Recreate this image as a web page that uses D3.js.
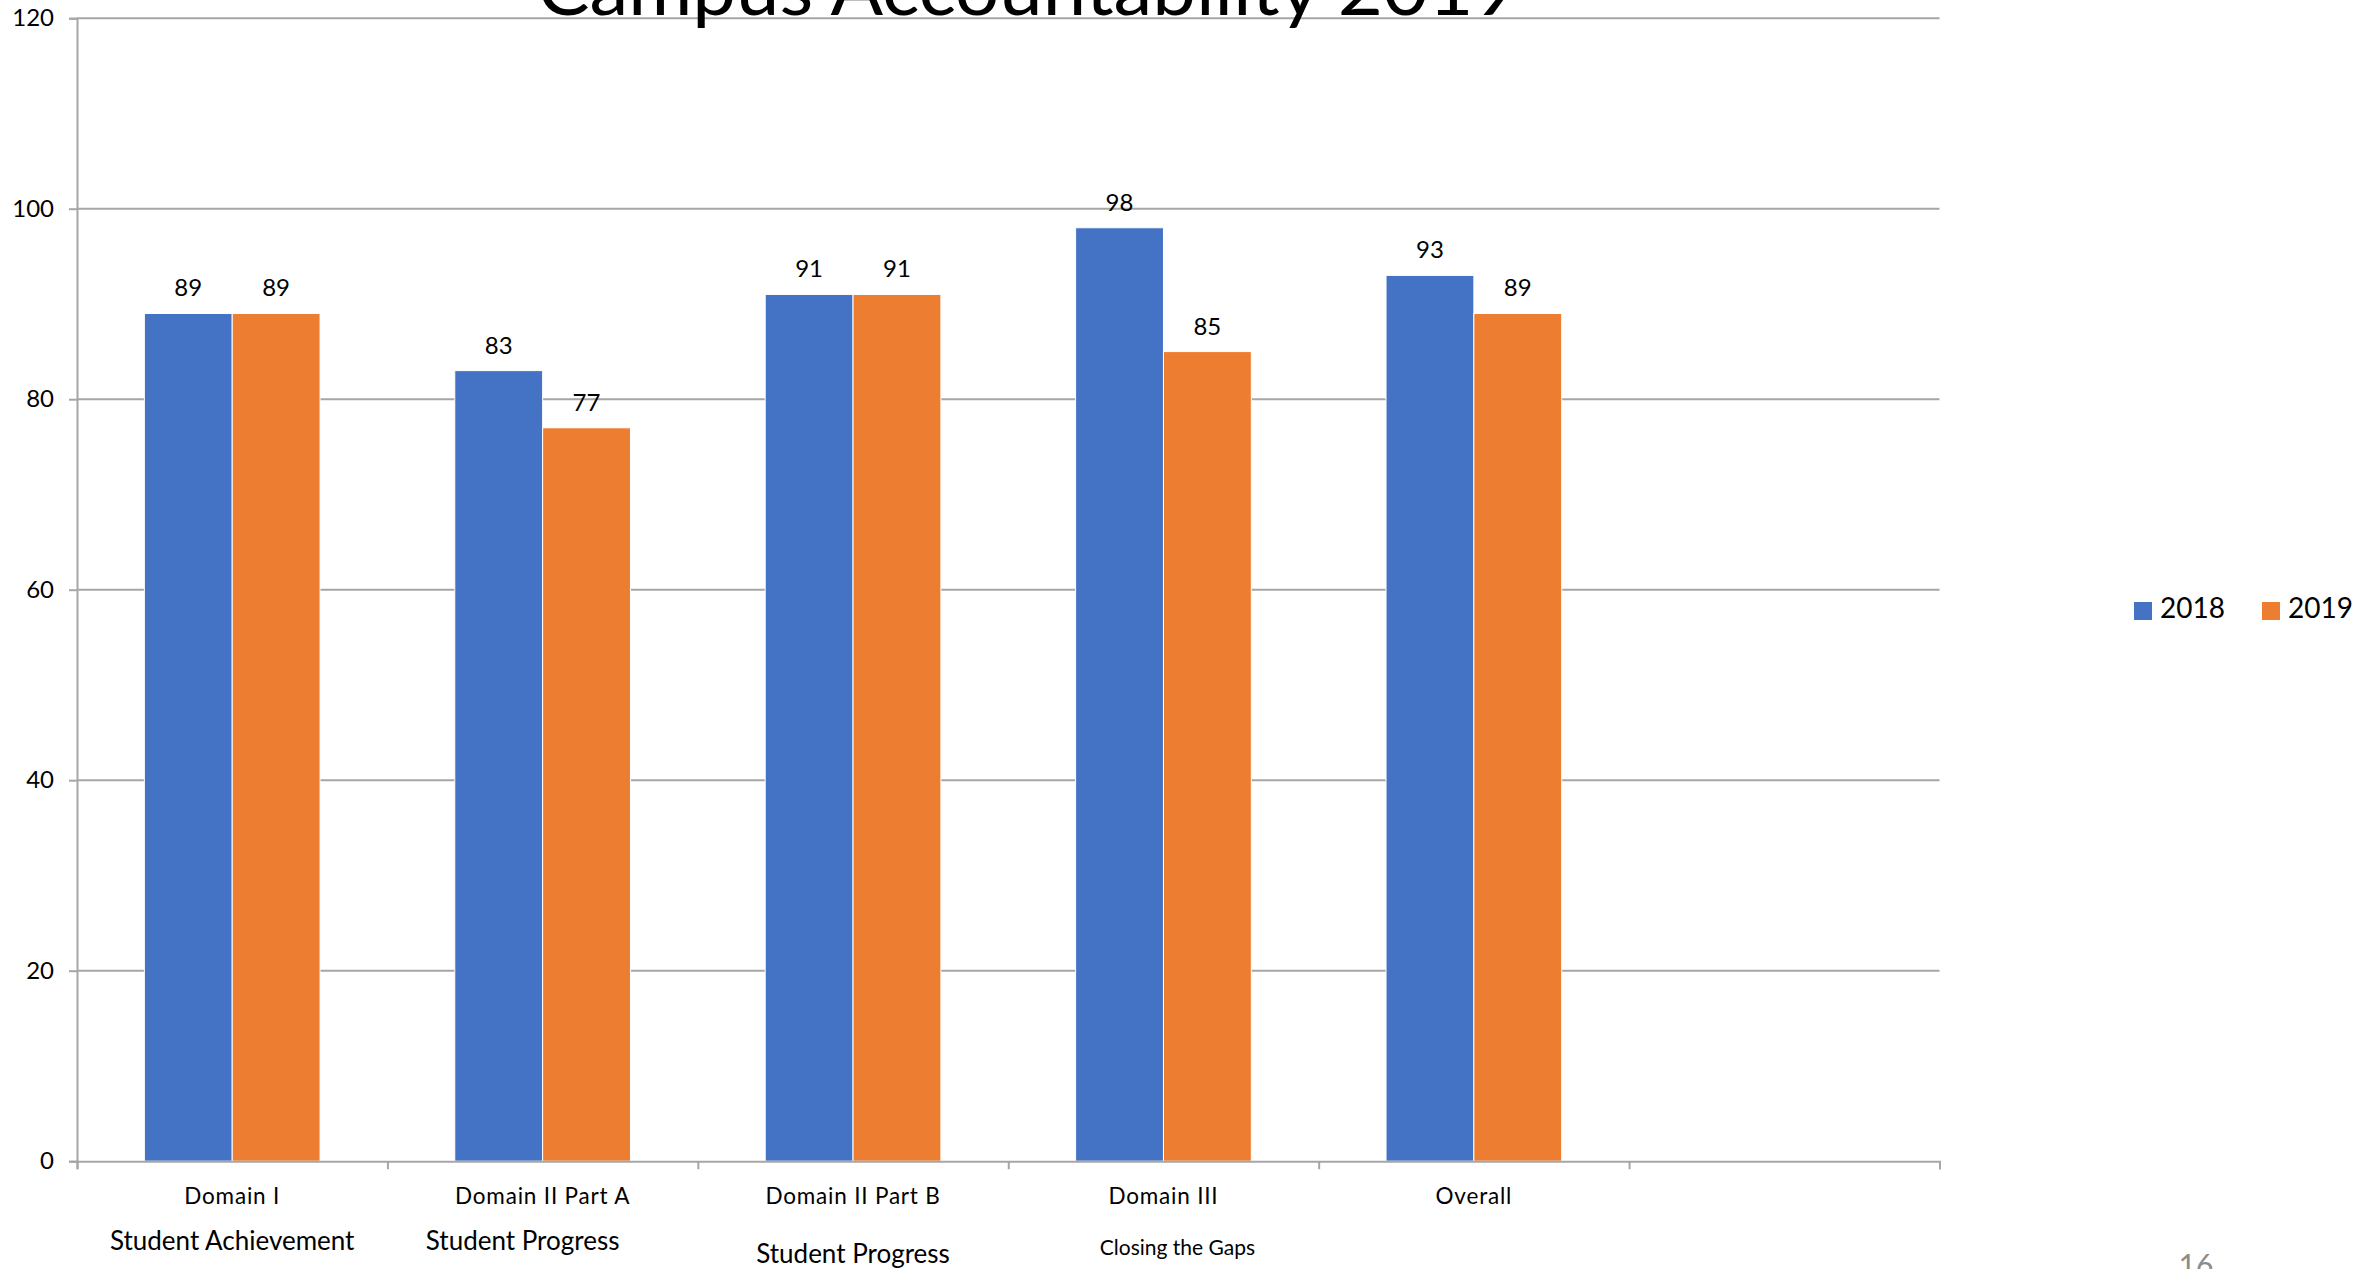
<!DOCTYPE html>
<html>

<head>
  <meta charset="UTF-8">
  <style>
    body { margin: 0; background: #fff; }
    svg { display: block; font-family: Lato, "Open Sans", sans-serif; }
  </style>
</head>

<body>
  <svg></svg>
  <script src="https://d3js.org/d3.v7.min.js"></script>

  <script>

    let width = 2374, height = 1269;

    // chart data
    let categories = ["Domain I", "Domain II Part A", "Domain II Part B", "Domain III", "Overall", ""];
    let subLabels = ["Student Achievement", "Student Progress", "Student Progress", "Closing the Gaps", "", ""];
    let seriesNames = ["2018", "2019"];
    let values2018 = [89, 83, 91, 98, 93];
    let values2019 = [89, 77, 91, 85, 89];
    let yTicks = [0, 20, 40, 60, 80, 100, 120];

    let colors = ["#4472C4", "#ED7D31"];

    // sub label layout tweaks (they sit in separate text boxes on the slide)
    let subLayout = [
      { dx: 0, y: 1250, size: 26 },
      { dx: -20, y: 1250, size: 26 },
      { dx: 0, y: 1263, size: 26 },
      { dx: 14, y: 1255, size: 21 },
      { dx: 0, y: 1250, size: 26 },
      { dx: 0, y: 1250, size: 26 }
    ];

    let svg = d3.select("svg")
      .attr("width", width)
      .attr("height", height)
      .attr("viewBox", "0 0 " + width + " " + height);

    let plotLeft = 77, plotRight = 1939.5, plotTop = 18.2, plotBottom = 1161.2;

    let x0 = d3.scaleBand()
      .domain(d3.range(categories.length))
      .range([plotLeft, plotRight])
      .padding(0);

    let bw = x0.bandwidth();
    let x1 = d3.scaleBand()
      .domain(seriesNames)
      .range([bw * 0.217, bw * 0.783])
      .padding(0);

    let y = d3.scaleLinear()
      .domain([0, 120])
      .range([plotBottom, plotTop]);

    // gridlines
    svg.append("g")
      .selectAll("line")
      .data(yTicks.filter(d => d > 0))
      .enter()
      .append("line")
      .attr("x1", plotLeft)
      .attr("x2", plotRight)
      .attr("y1", d => y(d))
      .attr("y2", d => y(d))
      .attr("stroke", "#a6a6a6")
      .attr("stroke-width", 2);

    // y axis
    let yAxis = svg.append("g")
      .attr("transform", "translate(" + plotLeft + ",0)")
      .call(d3.axisLeft(y).tickValues(yTicks).tickSize(8).tickPadding(15));
    yAxis.select(".domain").attr("stroke", "#a6a6a6").attr("stroke-width", 2);
    yAxis.selectAll(".tick line").attr("stroke", "#a6a6a6").attr("stroke-width", 2);
    yAxis.selectAll(".tick text")
      .attr("font-family", "Lato, sans-serif")
      .attr("font-size", 24)
      .attr("fill", "#000");

    // bars
    let rows = values2018.map((v, i) => ({ i: i, vals: [v, values2019[i]] }));

    let groups = svg.append("g")
      .selectAll("g")
      .data(rows)
      .enter()
      .append("g")
      .attr("transform", d => "translate(" + x0(d.i) + ",0)");

    groups.selectAll("rect")
      .data(d => d.vals.map((v, k) => ({ key: seriesNames[k], value: v, k: k })))
      .enter()
      .append("rect")
      .attr("x", d => x1(d.key))
      .attr("width", x1.bandwidth())
      .attr("y", d => y(d.value))
      .attr("height", d => y(0) - y(d.value))
      .attr("fill", d => colors[d.k])
      .attr("stroke", "#fff")
      .attr("stroke-width", 1);

    groups.selectAll("text")
      .data(d => d.vals.map((v, k) => ({ key: seriesNames[k], value: v, k: k })))
      .enter()
      .append("text")
      .attr("x", d => x1(d.key) + x1.bandwidth() / 2)
      .attr("y", d => y(d.value) - 17)
      .attr("text-anchor", "middle")
      .attr("font-size", 24)
      .text(d => d.value);

    // x axis (ticks at category boundaries)
    let xEdges = d3.scaleLinear().domain([0, categories.length]).range([plotLeft, plotRight]);
    let xAxis = svg.append("g")
      .attr("transform", "translate(0," + plotBottom + ")")
      .call(d3.axisBottom(xEdges).ticks(categories.length).tickSize(8).tickFormat(""));
    xAxis.select(".domain").attr("stroke", "#a6a6a6").attr("stroke-width", 2);
    xAxis.selectAll(".tick line").attr("stroke", "#a6a6a6").attr("stroke-width", 2);

    // category labels
    svg.append("g")
      .selectAll("text")
      .data(categories)
      .enter()
      .append("text")
      .attr("x", (d, i) => x0(i) + bw / 2)
      .attr("y", 1204)
      .attr("text-anchor", "middle")
      .attr("font-size", 22.5)
      .attr("letter-spacing", 0.8)
      .text(d => d);

    svg.append("g")
      .selectAll("text")
      .data(subLabels)
      .enter()
      .append("text")
      .attr("x", (d, i) => x0(i) + bw / 2 + subLayout[i].dx)
      .attr("y", (d, i) => subLayout[i].y)
      .attr("text-anchor", "middle")
      .attr("font-size", (d, i) => subLayout[i].size)
      .text(d => d);

    // title (partly cut off at top of slide, as on the original)
    svg.append("text")
      .attr("x", 1028)
      .attr("y", 15)
      .attr("text-anchor", "middle")
      .attr("font-size", 74)
      .attr("font-weight", 400)
      .attr("textLength", 981)
      .attr("lengthAdjust", "spacingAndGlyphs")
      .text("Campus Accountability 2019");

    // legend
    let legend = svg.append("g")
      .selectAll("g")
      .data(seriesNames)
      .enter()
      .append("g")
      .attr("transform", (d, i) => "translate(" + (2134 + i * 128) + ",602)");
    legend.append("rect")
      .attr("width", 18)
      .attr("height", 18)
      .attr("fill", (d, i) => colors[i]);
    legend.append("text")
      .attr("x", 26)
      .attr("y", 16)
      .attr("font-size", 28)
      .text(d => d);

    // slide number
    svg.append("text")
      .attr("x", 2196)
      .attr("y", 1276)
      .attr("text-anchor", "middle")
      .attr("font-size", 30)
      .attr("fill", "#8c8c8c")
      .text("16");

  </script>

</body>

</html>
